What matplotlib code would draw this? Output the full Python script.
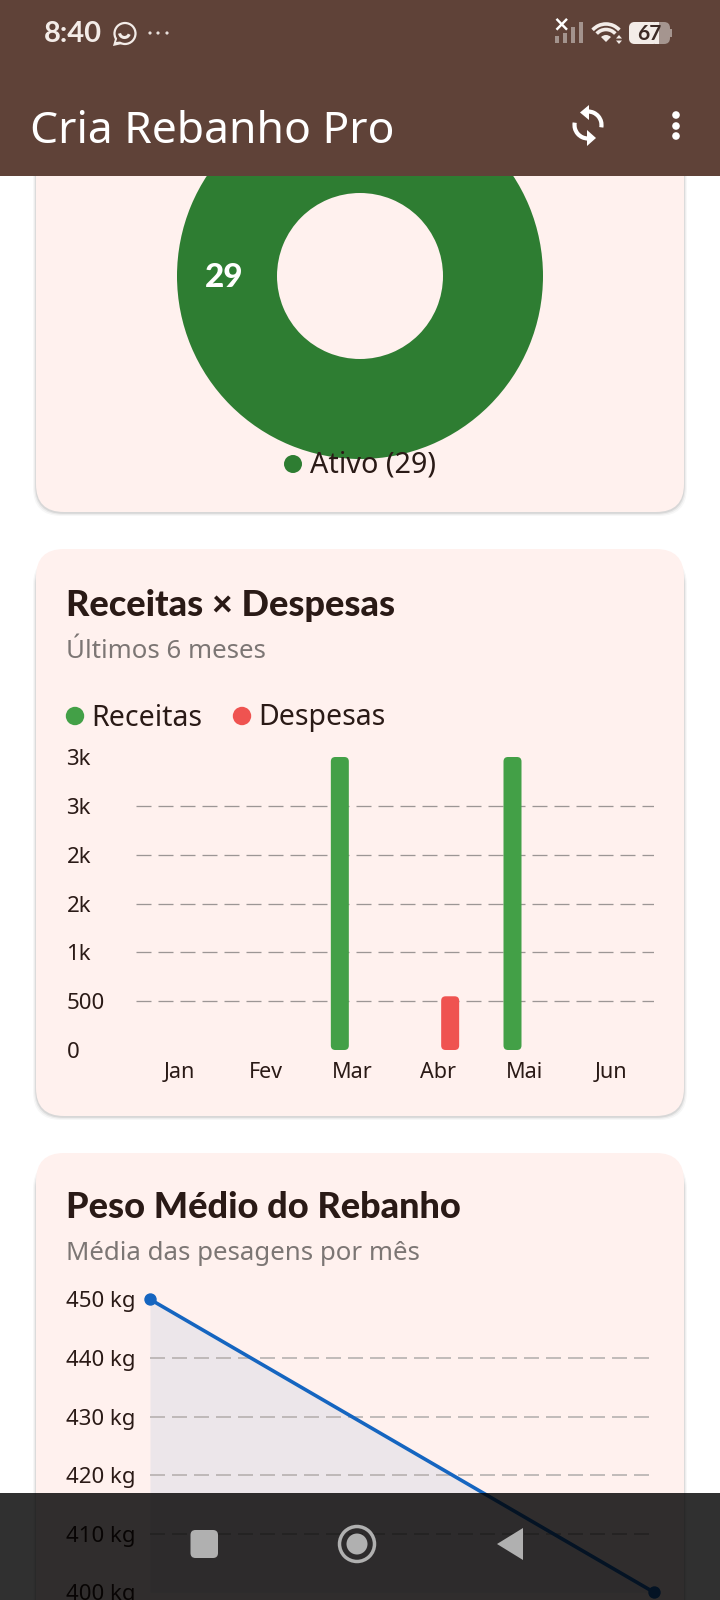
import matplotlib
matplotlib.use("Agg")
import matplotlib.pyplot as plt
from matplotlib.patches import Arc, Circle, FancyBboxPatch, Polygon, Rectangle, Wedge

plt.rcParams['font.family'] = ['Noto Sans', 'DejaVu Sans']
BOLD_FONT = ['Lato', 'DejaVu Sans']

W, H = 720, 1600
PX = 72 / 100  # one pixel in points at dpi 100

# donut
status_names  = ["Ativo"]
status_counts = [29]

# receitas x despesas
months   = ["Jan", "Fev", "Mar", "Abr", "Mai", "Jun"]
receitas = [0, 0, 3000, 0, 3000, 0]
despesas = [0, 0, 0, 550, 0, 0]
money_ticks  = [0, 500, 1000, 1500, 2000, 2500, 3000]
money_labels = ["0", "500", "1k", "2k", "2k", "3k", "3k"]

# peso medio
weight_x     = [0, 1]
weight_y     = [450, 400]
weight_ticks = [400, 410, 420, 430, 440, 450]

BROWN = "#5F4238"
CARD  = "#FFF1EE"
DARK  = "#2A1A16"
GREY  = "#7C7674"
GREEN = "#43A047"
RED   = "#EF5350"
DONUT = "#2E7D32"
BLUE  = "#1565C0"
ICON  = "#B0B0B0"
SOFT  = "#F3ECE8"


def add_px_axes(fig, left, top, right, bottom, zorder=1):
    ax = fig.add_axes([left / W, 1 - bottom / H, (right - left) / W, (bottom - top) / H], zorder=zorder)
    ax.patch.set_alpha(0)
    return ax


def page_axes(fig, zorder):
    ax = add_px_axes(fig, 0, 0, W, H, zorder)
    ax.set_xlim(0, W)
    ax.set_ylim(H, 0)
    ax.axis("off")
    return ax


def draw_card(ax, top, bottom):
    # soft shadow first, only sides and bottom, then the card
    for grow, alpha in [(3, 0.03), (1.8, 0.05), (0.8, 0.08)]:
        ax.add_patch(FancyBboxPatch((36 - grow, top + 8), 648 + 2 * grow, bottom - top - 8 + grow + 1,
                                    boxstyle="round,pad=0,rounding_size=28", fc="black", ec="none", alpha=alpha))
    ax.add_patch(FancyBboxPatch((36, top), 648, bottom - top,
                                boxstyle="round,pad=0,rounding_size=28", fc=CARD, ec="none"))


def rounded_bars(ax, bars, radius_px, px_per_x, px_per_y):
    # swap the plain bar rectangles for rounded ones of the same size
    for bar in bars:
        bar.set_visible(False)
        if bar.get_height() <= 0:
            continue
        ax.add_patch(FancyBboxPatch((bar.get_x(), 0), bar.get_width(), bar.get_height(),
                                    boxstyle=f"round,pad=0,rounding_size={radius_px / px_per_x}",
                                    mutation_aspect=px_per_x / px_per_y,
                                    fc=bar.get_facecolor(), ec="none", zorder=3))


def left_tick_labels(ax, labels, pad_px, size):
    ax.set_yticklabels(labels, fontsize=size, color=DARK)
    for lab in ax.get_yticklabels():
        lab.set_ha("left")
    ax.tick_params(axis="y", length=0, pad=pad_px * PX)


def draw_top_bar(ax):
    ax.add_patch(Rectangle((0, 0), W, 176, fc=BROWN, ec="none"))
    ax.text(44, 34, "8:40", color=SOFT, fontsize=21, va="center", family=BOLD_FONT, fontweight="bold")
    # whatsapp glyph
    ax.add_patch(Circle((125, 33.5), 10.5, fc=BROWN, ec=SOFT, lw=1.6))
    ax.add_patch(Polygon([(113, 46), (115.5, 37), (122, 44)], fc=SOFT, ec="none"))
    ax.add_patch(Polygon([(116, 42), (117.5, 37.5), (120.5, 41.5)], fc=BROWN, ec="none"))
    ax.add_patch(Arc((124.5, 32.5), 10, 10, theta1=20, theta2=170, ec=SOFT, lw=2.2))
    for x in (150, 158, 167):
        ax.add_patch(Circle((x, 33), 1.6, fc="#E8E0DC", ec="none"))

    # signal bars
    for x, y0 in [(557, 36), (565, 33), (573, 27), (581, 22)]:
        ax.add_patch(Rectangle((x - 2, y0), 4, 43 - y0, fc="#A3938D", ec="none"))
    ax.add_patch(Rectangle((555, 19), 12, 12, fc=BROWN, ec="none"))
    ax.text(561, 24, "×", color="white", fontsize=15, ha="center", va="center", fontweight="bold", family="DejaVu Sans")
    # wifi
    ax.add_patch(Wedge((606, 42), 7, 225, 315, fc=SOFT, ec="none"))
    for r in (12.5, 18):
        ax.add_patch(Arc((606, 42), 2 * r, 2 * r, theta1=222, theta2=318, ec=SOFT, lw=2.6))
    ax.add_patch(Polygon([(619, 35), (622, 38.5), (616, 38.5)], fc=SOFT, ec="none"))
    ax.add_patch(Polygon([(619, 44), (622, 40.5), (616, 40.5)], fc=SOFT, ec="none"))
    # battery
    ax.add_patch(FancyBboxPatch((629, 22), 41, 22, boxstyle="round,pad=0,rounding_size=6", fc="#A5958F", ec="none"))
    ax.add_patch(FancyBboxPatch((629, 22), 30, 22, boxstyle="round,pad=0,rounding_size=6", fc=SOFT, ec="none"))
    ax.add_patch(Rectangle((655, 22), 4, 22, fc=SOFT, ec="none"))
    ax.add_patch(Rectangle((670, 29), 2, 8, fc="#A5958F", ec="none"))
    ax.text(649, 33.5, "67", color="#3C2A25", fontsize=15, ha="center", va="center",
            family=BOLD_FONT, fontweight="bold")

    ax.text(30, 143, "Cria Rebanho Pro", color="white", fontsize=32, va="baseline")

    # refresh icon
    ax.add_patch(Arc((588, 125), 27, 27, theta1=270, theta2=370, ec="white", lw=3))
    ax.add_patch(Arc((588, 125), 27, 27, theta1=90, theta2=190, ec="white", lw=3))
    ax.add_patch(Polygon([(580, 112.5), (589, 105), (589, 120)], fc="white", ec="none", zorder=4))
    ax.add_patch(Polygon([(596, 138), (587, 130), (587, 146)], fc="white", ec="none", zorder=4))
    # menu dots
    for y in (115, 126, 136):
        ax.add_patch(Circle((676, y), 3.8, fc="white", ec="none"))


def draw_nav_bar(ax):
    ax.add_patch(Rectangle((0, 1493), W, 107, fc="black", ec="none", alpha=0.81))
    ax.add_patch(FancyBboxPatch((190.5, 1530), 27.5, 28, boxstyle="round,pad=0,rounding_size=5", fc=ICON, ec="none"))
    ax.add_patch(Circle((357, 1544), 17.5, fc="none", ec=ICON, lw=2.5))
    ax.add_patch(Circle((357, 1544), 10.5, fc=ICON, ec="none"))
    ax.add_patch(Polygon([(497, 1544), (523, 1528), (523, 1560)], fc=ICON, ec="none"))


fig = plt.figure(figsize=(W / 100, H / 100), dpi=100, facecolor="white")

bg = page_axes(fig, 0)
draw_card(bg, 100, 512)
draw_card(bg, 549, 1116)
draw_card(bg, 1153, 1700)

# donut
ax_pie = add_px_axes(fig, 360 - 183, 276 - 183, 360 + 183, 276 + 183)
ax_pie.pie(status_counts, colors=[DONUT], radius=1, wedgeprops=dict(width=1 - 83 / 183))
ax_pie.set_xlim(-1, 1)
ax_pie.set_ylim(-1, 1)
ax_pie.text(-0.74, -0.01, str(status_counts[0]), color="white", fontsize=24, family=BOLD_FONT,
            fontweight="black", ha="center", va="center")

# bars
left, right, top, bottom = 136, 654, 757, 1050
ax_bar = add_px_axes(fig, left, top, right, bottom)
x_pos = list(range(len(months)))
px_per_x = (right - left) / len(months)
px_per_y = (bottom - top) / 3000
bar_w = 18 / px_per_x
shift = 12 / px_per_x
bars_r = ax_bar.bar([x - shift for x in x_pos], receitas, bar_w, color=GREEN)
bars_d = ax_bar.bar([x + shift for x in x_pos], despesas, bar_w, color=RED)
ax_bar.set_xlim(-0.5, 5.5)
ax_bar.set_ylim(0, 3000)
rounded_bars(ax_bar, bars_r, 4.5, px_per_x, px_per_y)
rounded_bars(ax_bar, bars_d, 4.5, px_per_x, px_per_y)
ax_bar.hlines(money_ticks[1:-1], -0.5, 5.5, color="#9C9695", lw=1.3 * PX, linestyles=(0, (15 / 1.3, 7 / 1.3)), zorder=1)
ax_bar.set_xticks(x_pos)
ax_bar.set_xticklabels(months, fontsize=15.5, color=DARK)
ax_bar.tick_params(axis="x", length=0, pad=12 * PX)
ax_bar.set_yticks(money_ticks)
left_tick_labels(ax_bar, money_labels, 69.5, 16)
for side in ax_bar.spines.values():
    side.set_visible(False)

# weight line
left, right, top, bottom = 150, 654, 1299.3, 1592.3
ax_line = add_px_axes(fig, left, top, right, bottom)
ax_line.fill_between(weight_x, weight_y, min(weight_ticks), color=BLUE, alpha=0.08, lw=0)
ax_line.hlines(weight_ticks[1:-1], 0, 1, color="#B4AFAE", lw=1.6 * PX, linestyles=(0, (15 / 1.6, 7 / 1.6)), zorder=1)
ax_line.plot(weight_x, weight_y, color=BLUE, lw=3.6 * PX, marker="o", ms=11 * PX, clip_on=False, zorder=3)
ax_line.set_xlim(0, 1)
ax_line.set_ylim(400, 450)
ax_line.set_xticks([])
ax_line.set_yticks(weight_ticks)
left_tick_labels(ax_line, [f"{v} kg" for v in weight_ticks], 83.5, 16)
for side in ax_line.spines.values():
    side.set_visible(False)

# titles and legends
fg = page_axes(fig, 2)
fg.add_patch(Circle((293, 464), 9, fc=DONUT, ec="none"))
fg.text(310, 465, f"{status_names[0]} ({status_counts[0]})", color=DARK, fontsize=20.7, va="center")

fg.text(66, 605, "Receitas × Despesas", color=DARK, fontsize=26, family=BOLD_FONT, fontweight="black", va="center")
fg.text(66, 651, "Últimos 6 meses", color=GREY, fontsize=18.6, va="center")
fg.add_patch(Circle((75, 716), 9.2, fc=GREEN, ec="none"))
fg.text(91, 718, "Receitas", color=DARK, fontsize=20.5, va="center")
fg.add_patch(Circle((242, 716), 9.2, fc=RED, ec="none"))
fg.text(258.5, 718, "Despesas", color=DARK, fontsize=20.5, va="center")

fg.text(66, 1208, "Peso Médio do Rebanho", color=DARK, fontsize=26, family=BOLD_FONT, fontweight="black", va="center")
fg.text(66, 1254, "Média das pesagens por mês", color=GREY, fontsize=18.6, va="center")

top_layer = page_axes(fig, 5)
draw_top_bar(top_layer)
draw_nav_bar(top_layer)

fig.savefig("out.png", dpi=100)
